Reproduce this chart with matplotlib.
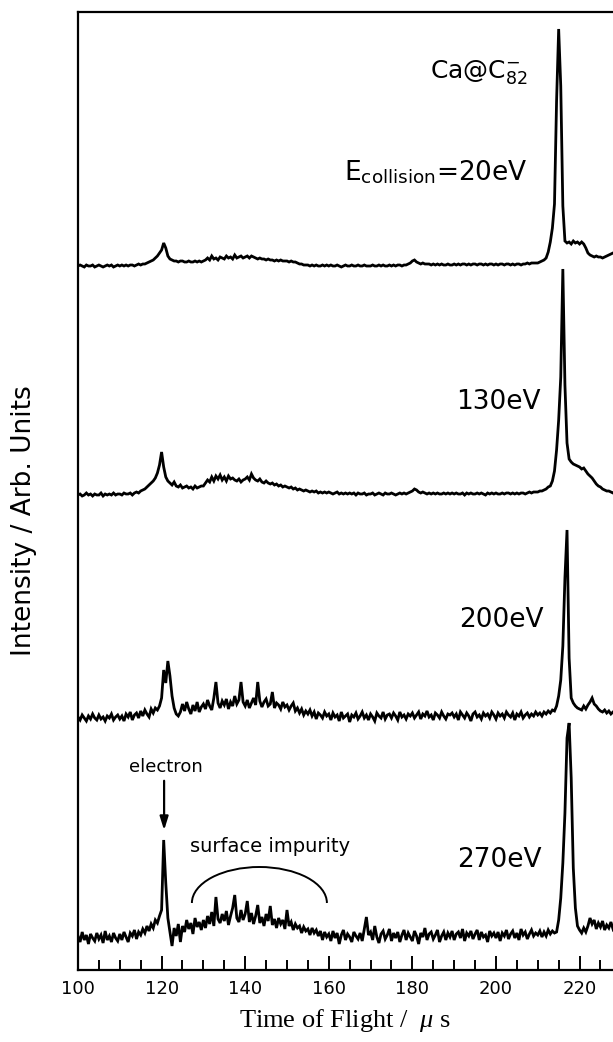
import numpy as np
import matplotlib
matplotlib.use('Agg')
from matplotlib import pyplot as plt
from matplotlib.ticker import MultipleLocator
from matplotlib.patches import Arc

plt.rcParams['font.family'] = ['DejaVu Sans']
plt.rcParams['mathtext.fontset'] = 'custom'
plt.rcParams['mathtext.rm'] = 'DejaVu Sans'
plt.rcParams['mathtext.it'] = 'Liberation Serif:italic'
plt.rcParams['mathtext.sf'] = 'DejaVu Sans'

# time-of-flight axis, 0.5 us channels
tof = np.arange(100.0, 229.01, 0.5)

# intensities (arb. units) above each trace's own baseline
i20 = [0, 1, 0, -1, 1, 0, 0, 1, -1, 0, 1, 0, -1, 0, 1, 0, 1, -1, 0, 1,
       0, 1, 0, 1, 0, 1, 1, 0, 1, 2, 1, 2, 2, 3, 4, 5, 6, 8, 10, 13,
       16, 23, 18, 10, 7, 6, 5, 5, 4, 5, 5, 4, 4, 5, 4, 4, 5, 4, 5, 4,
       5, 6, 8, 6, 10, 7, 8, 6, 9, 8, 7, 10, 8, 9, 7, 11, 8, 9, 10, 8,
       9, 10, 8, 10, 9, 8, 7, 8, 7, 7, 6, 7, 6, 6, 5, 6, 5, 6, 5, 5,
       5, 4, 5, 4, 4, 3, 2, 2, 1, 1, 1, 0, 1, 0, 1, 0, 0, 1, 0, 1,
       0, 1, 0, 0, 1, 0, -1, 0, 1, 0, 0, 1, 0, 0, 1, 0, 0, 1, 0, 0,
       0, 1, 0, 0, 1, 0, 1, 0, 0, 1, 0, 1, 0, 1, 1, 0, 1, 1, 2, 3,
       5, 6, 4, 3, 2, 3, 2, 2, 2, 1, 2, 1, 2, 1, 2, 1, 1, 2, 1, 1,
       2, 1, 2, 1, 2, 2, 1, 2, 1, 2, 2, 1, 2, 2, 1, 2, 1, 2, 2, 1,
       2, 1, 2, 2, 1, 2, 2, 1, 2, 1, 2, 2, 1, 2, 2, 3, 2, 3, 3, 3,
       3, 4, 5, 6, 8, 14, 24, 38, 62, 165, 237, 180, 60, 25, 23, 24, 22, 25, 23, 24,
       22, 24, 22, 18, 13, 11, 10, 9, 10, 9, 9, 8, 9, 10, 11, 12, 13, 14, 14]

i130 = [0, 1, -1, 0, 2, 0, 1, -1, 1, 0, 0, 2, -1, 1, 0, 1, 0, 2, 0, 1,
        1, 0, 2, 1, 1, 2, 0, 2, 3, 2, 4, 5, 6, 8, 10, 12, 14, 17, 22, 30,
        43, 28, 18, 14, 12, 10, 13, 9, 8, 10, 7, 8, 9, 7, 8, 6, 9, 7, 8, 9,
        9, 12, 15, 13, 18, 14, 19, 16, 20, 15, 18, 14, 19, 16, 17, 15, 14, 16, 13, 15,
        16, 18, 15, 21, 17, 15, 14, 16, 13, 12, 14, 12, 11, 12, 10, 11, 9, 10, 8, 9,
        8, 7, 8, 6, 7, 5, 6, 5, 4, 5, 4, 3, 4, 3, 4, 2, 3, 2, 3, 2,
        3, 2, 1, 2, 3, 1, 2, 1, 2, 1, 2, 1, 2, 0, 2, 1, 1, 2, 0, 1,
        1, 2, 0, 1, 2, 1, 0, 2, 1, 1, 2, 1, 0, 1, 2, 1, 2, 1, 2, 3,
        4, 6, 5, 3, 2, 3, 2, 1, 2, 1, 2, 1, 2, 1, 1, 2, 1, 2, 1, 2,
        1, 2, 1, 1, 2, 0, 2, 1, 2, 1, 1, 2, 1, 2, 1, 0, 2, 1, 2, 1,
        2, 1, 1, 2, 1, 2, 2, 1, 2, 1, 2, 1, 2, 2, 1, 2, 3, 2, 3, 3,
        3, 4, 4, 5, 6, 8, 9, 14, 24, 45, 75, 118, 226, 110, 52, 36, 33, 31, 30, 29,
        28, 26, 27, 24, 21, 19, 17, 14, 11, 9, 8, 6, 5, 4, 4, 3, 2, 3, 2]

i200 = [1, -2, 3, 0, -3, 2, -1, 4, 0, -2, 3, -1, 1, -3, 2, 0, 4, -2, 1, 3,
        -1, 2, -3, 4, 1, 6, -2, 3, 5, 0, 7, 2, 8, 4, 1, 9, 5, 10, 8, 12,
        20, 48, 35, 57, 42, 22, 10, 4, 2, 6, 14, 7, 16, 9, 4, 13, 7, 16, 6, 11,
        14, 9, 18, 12, 8, 20, 36, 15, 10, 17, 13, 19, 9, 16, 12, 22, 14, 18, 36, 16,
        12, 18, 10, 15, 20, 13, 36, 17, 11, 16, 19, 12, 14, 26, 10, 15, 13, 9, 16, 11,
        13, 8, 12, 15, 7, 10, 5, 9, 3, 7, 4, 8, 2, 6, -1, 5, 3, 0, 6, 2,
        4, -2, 5, 1, 3, -3, 6, 0, 2, 4, -4, 3, 1, 5, -1, 2, 6, 0, 3, -2,
        4, 1, -3, 5, 2, 0, 6, -1, 3, 4, 0, 5, 2, -2, 6, 1, 3, -1, 4, 2,
        5, 0, 3, 6, -1, 4, 2, 7, 1, 3, -2, 5, 3, 0, 6, 2, -1, 4, 3, 5,
        1, 4, -2, 6, 3, 0, 5, 2, -3, 4, 6, 1, 3, -1, 5, 2, 4, 0, 6, 3,
        -1, 5, 2, 4, 0, 6, 3, 1, 5, -2, 4, 2, 6, 0, 3, 5, 1, 4, 2, 6,
        3, 5, 2, 6, 4, 7, 5, 8, 7, 12, 22, 38, 72, 140, 188, 60, 20, 15, 12, 10,
        9, 8, 12, 9, 13, 16, 20, 14, 12, 9, 7, 6, 8, 5, 7, 4, 6, 5, 4]

i270 = [2, -4, 6, -2, 3, -6, 4, 0, -3, 5, -1, 3, -5, 7, -2, 2, -4, 5, 0, -3,
        4, -2, 6, 1, -4, 5, 2, 8, -1, 6, 3, 9, 5, 12, 7, 14, 10, 18, 15, 22,
        28, 98, 55, 20, 6, -8, 10, 2, 14, -4, 12, 6, 18, 9, 15, 4, 20, 11, 16, 8,
        18, 10, 22, 14, 26, 12, 41, 19, 15, 24, 17, 27, 13, 22, 30, 43, 20, 16, 28, 18,
        24, 37, 16, 25, 14, 22, 33, 15, 21, 12, 24, 17, 32, 13, 19, 10, 20, 14, 18, 9,
        28, 12, 16, 8, 14, 10, 12, 5, 11, 7, 9, 3, 10, 5, 8, 2, 7, -2, 6, 1,
        4, -3, 7, 0, 5, -6, 3, 8, -2, 4, 1, -4, 6, 2, -1, 5, -3, 9, 21, 3,
        6, -2, 12, 1, -5, 4, 7, -1, 3, 9, -3, 5, 0, 6, -4, 3, 8, -2, 5, 1,
        -3, 7, 2, -6, 5, 1, 10, -2, 4, 6, -1, 3, 8, -4, 2, 6, -2, 5, 1, 7,
        -2, 4, 6, 0, 9, -3, 5, 2, 7, -1, 4, 8, -2, 6, 1, 3, -4, 7, 2, 5,
        0, 6, -3, 5, 2, 8, -1, 4, 7, 0, 5, -2, 9, 3, 6, -1, 4, 8, 2, 5,
        3, 7, 1, 6, 2, 8, 4, 7, 5, 6, 18, 40, 75, 125, 200, 215, 160, 70, 30, 12,
        8, 5, 10, 6, 12, 20, 14, 18, 9, 15, 11, 17, 8, 13, 10, 16, 9, 12, 10]

spectra = [i20, i130, i200, i270]
offsets = [704, 475, 252, 32]
energies = ['20eV', '130eV', '200eV', '270eV']

fig = plt.figure(figsize=(6.13, 10.42), dpi=100)
ax = fig.add_axes([78 / 613, 72 / 1042, 535 / 613, 958 / 1042])

for y, off in zip(spectra, offsets):
    ax.plot(tof, np.array(y) + off, color='black', lw=2.0, solid_joinstyle='miter')

ax.set_xlim(100, 228)
ax.set_ylim(0, 958)
ax.set_yticks([])
ax.set_xticks(range(100, 221, 20))
ax.xaxis.set_minor_locator(MultipleLocator(5))
ax.tick_params(axis='x', which='major', direction='in', length=10, width=1.4,
               labelsize=13, pad=7)
ax.tick_params(axis='x', which='minor', direction='in', length=7, width=1.4)
ax.spines['right'].set_visible(False)
for s in ['left', 'top', 'bottom']:
    ax.spines[s].set_linewidth(1.6)

ax.set_xlabel(r'Time of Flight /  $\mu$ s', family='Liberation Serif', fontsize=19,
              labelpad=7)
fig.text(24 / 613, 0.5, 'Intensity / Arb. Units', fontsize=19, rotation=90,
         ha='center', va='center')

# labels for each collision energy
ax.text(195.9, 898, r'Ca@C$_{82}^{-}$', fontsize=18, ha='center', va='center')
ax.text(207.7, 797, r'E$_{\mathrm{collision}}$=' + energies[0], fontsize=19,
        ha='right', va='center')
ax.text(200.5, 568, energies[1], fontsize=19, ha='center', va='center')
ax.text(201.4, 350, energies[2], fontsize=19, ha='center', va='center')
ax.text(200.7, 110, energies[3], fontsize=19, ha='center', va='center')

# electron peak marker
ax.annotate('', xy=(120.6, 137), xytext=(120.6, 192),
            arrowprops=dict(arrowstyle='-|>,head_length=0.8,head_width=0.25',
                            color='black', lw=1.6))
ax.text(121.1, 203, 'electron', fontsize=13, ha='center', va='center')

# surface impurity bracket
ax.add_patch(Arc((143.4, 67), 32.3, 72, theta1=0, theta2=180, color='black', lw=1.4))
ax.text(146.0, 123, 'surface impurity', fontsize=14, ha='center', va='center')

fig.savefig('out.png', dpi=100)
